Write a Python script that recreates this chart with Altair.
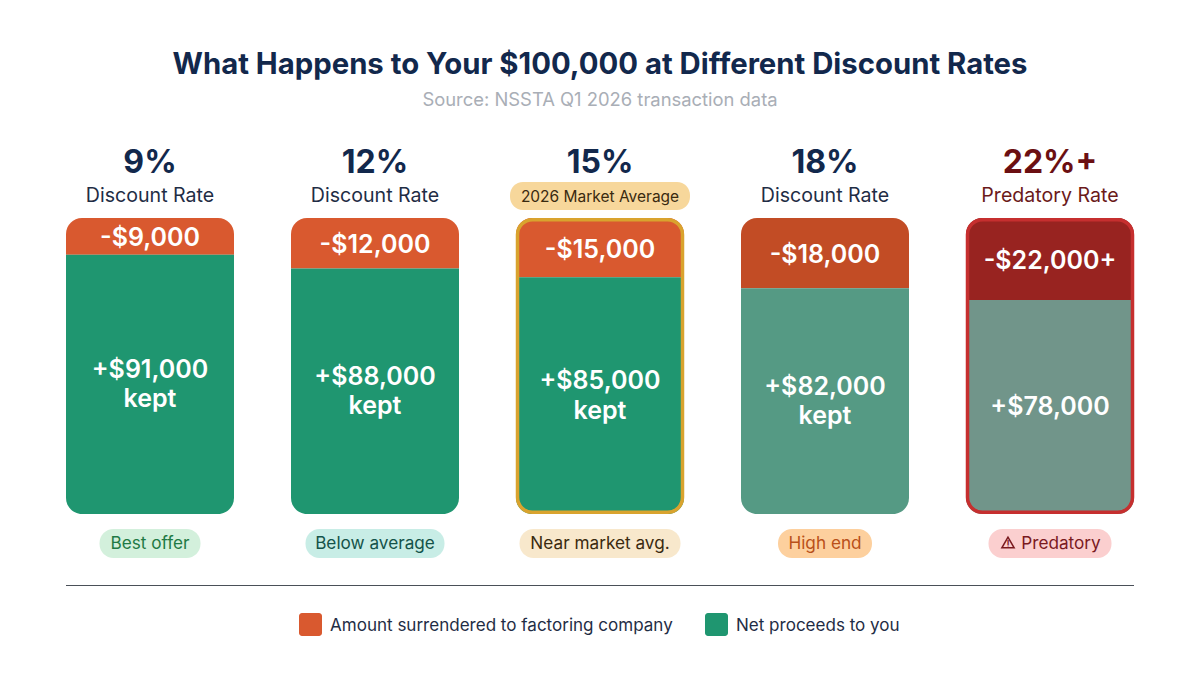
import altair as alt
import pandas as pd

# ---- data ----
rates = ["9%", "12%", "15%", "18%", "22%+"]
subtitles = ["Discount Rate", "Discount Rate", "", "Discount Rate", "Predatory Rate"]
surrendered_labels = ["-$9,000", "-$12,000", "-$15,000", "-$18,000", "-$22,000+"]
kept_labels = ["+$91,000", "+$88,000", "+$85,000", "+$82,000", "+$78,000"]
kept_words = ["kept", "kept", "kept", "kept", ""]
# share of each bar's height as drawn in the picture
surrendered_drawn = [12.4, 17.1, 20.0, 23.7, 27.7]
pill_labels = ["Best offer", "Below average", "Near market avg.", "High end", "Predatory"]
legend_labels = ["Amount surrendered to factoring company", "Net proceeds to you"]

# ---- styles ----
NAVY = "#12284C"
FONT = "Inter"
orange_fill = ["#D9592F", "#D9592F", "#D9592F", "#C24C25", "#982320"]
green_fill = ["#1F9670", "#1F9670", "#1F9670", "#559A84", "#71958A"]
rate_color = [NAVY, NAVY, NAVY, NAVY, "#6B0F12"]
sub_color = ["#1F2D45", "#1F2D45", "#1F2D45", "#1F2D45", "#6B1A1A"]
pill_fill = ["#D3F0DC", "#C8EDE6", "#F8E8CC", "#FDD09E", "#FBCFCF"]
pill_text = ["#1F7A45", "#14534A", "#3A2A10", "#B9501A", "#7A1A1F"]
pill_width = [101, 139, 161, 94, 123]
pill_dx = [0, 0, 0, 0, 11]

df = pd.DataFrame({
    "rate": rates,
    "sub": subtitles,
    "surr_label": surrendered_labels,
    "kept_label": kept_labels,
    "kept_word": kept_words,
    "surr": surrendered_drawn,
    "orange": orange_fill,
    "green": green_fill,
    "rate_color": rate_color,
    "sub_color": sub_color,
    "pill": pill_labels,
    "pill_text": pill_text,
})
df["top"] = 100
df["boundary"] = 100 - df["surr"]
df["zero"] = 0
df["surr_mid"] = 100 - df["surr"] / 2
df["kept_mid"] = (100 - df["surr"]) / 2
df["has_word"] = df["kept_word"] != ""

x = alt.X("rate:N", sort=rates, axis=None,
          scale=alt.Scale(domain=rates, paddingInner=57 / 225, paddingOuter=0))
yscale = alt.Scale(domain=[0, 100])


def Y(field):
    return alt.Y(f"{field}:Q", scale=yscale, axis=None)


base = alt.Chart(df)

orange = base.mark_bar(cornerRadiusTopLeft=16, cornerRadiusTopRight=16).encode(
    x=x, y=Y("boundary"), y2="top:Q", fill=alt.Fill("orange:N", scale=None))
green = base.mark_bar(cornerRadiusBottomLeft=16, cornerRadiusBottomRight=16).encode(
    x=x, y=Y("zero"), y2="boundary:Q", fill=alt.Fill("green:N", scale=None))

outlines = [
    alt.Chart(df[df.rate == r]).mark_bar(
        width=165, cornerRadius=15, fillOpacity=0, stroke=c, strokeWidth=3.5
    ).encode(x=x, y=alt.value(1.7), y2=alt.value(294.3))
    for r, c in [("15%", "#D9A32E"), ("22%+", "#C62F2F")]
]

surr_text = base.mark_text(font=FONT, fontSize=25, fontWeight=600, color="white", dy=2).encode(
    x=x, y=Y("surr_mid"), text="surr_label:N")
kept_two = alt.Chart(df[df.has_word]).mark_text(
    font=FONT, fontSize=25, fontWeight=600, color="white", dy=-14.5
).encode(x=x, y=Y("kept_mid"), text="kept_label:N")
kept_word = alt.Chart(df[df.has_word]).mark_text(
    font=FONT, fontSize=25, fontWeight=600, color="white", dy=15
).encode(x=x, y=Y("kept_mid"), text="kept_word:N")
kept_one = alt.Chart(df[~df.has_word]).mark_text(
    font=FONT, fontSize=25, fontWeight=600, color="white"
).encode(x=x, y=Y("kept_mid"), text="kept_label:N")

rate_text = base.mark_text(font=FONT, fontSize=32, fontWeight=700).encode(
    x=x, y=alt.value(-55.5), text="rate:N", color=alt.Color("rate_color:N", scale=None))
sub_text = base.mark_text(font=FONT, fontSize=19.6).encode(
    x=x, y=alt.value(-22.5), text="sub:N", color=alt.Color("sub_color:N", scale=None))

market_pill = alt.Chart(df[df.rate == "15%"]).mark_bar(
    width=180, cornerRadius=13, color="#F7D79B"
).encode(x=x, y=alt.value(-36), y2=alt.value(-8))
market_text = alt.Chart(df[df.rate == "15%"]).mark_text(
    font=FONT, fontSize=15.5, color="#3A2A10"
).encode(x=x, y=alt.value(-21.5), text=alt.value("2026 Market Average"))

pills = [
    alt.Chart(df[df.rate == r]).mark_bar(
        width=w, cornerRadius=14, color=c
    ).encode(x=x, y=alt.value(311), y2=alt.value(340))
    for r, w, c in zip(rates, pill_width, pill_fill)
]
pill_texts = [
    alt.Chart(df[df.rate == r]).mark_text(font=FONT, fontSize=17.2, dx=d).encode(
        x=x, y=alt.value(325.5), text="pill:N", color=alt.Color("pill_text:N", scale=None))
    for r, d in zip(rates, pill_dx)
]

last = df[df.rate == "22%+"]
warn_triangle = alt.Chart(last).mark_point(
    shape="triangle-up", size=150, filled=False, strokeWidth=1.5, color="#7A1A1F", xOffset=-42, opacity=1
).encode(x=x, y=alt.value(324.5))
warn_bang = alt.Chart(last).mark_text(
    font=FONT, fontSize=10, fontWeight=600, color="#7A1A1F", dx=-42
).encode(x=x, y=alt.value(326.5), text=alt.value("!"))

one = pd.DataFrame({"label": ["t"]})
anno = alt.Chart(one)
title = anno.mark_text(font=FONT, fontSize=29.3, fontWeight=700, color=NAVY).encode(
    x=alt.value(534), y=alt.value(-153.5),
    text=alt.value("What Happens to Your $100,000 at Different Discount Rates"))
source = anno.mark_text(font=FONT, fontSize=18.4, color="#A9AEB6").encode(
    x=alt.value(534), y=alt.value(-118.5),
    text=alt.value("Source: NSSTA Q1 2026 transaction data"))
rule = anno.mark_rule(color="#4A5058", strokeWidth=1.2).encode(
    x=alt.value(0), x2=alt.value(1068), y=alt.value(367.5))

swatch1 = anno.mark_bar(cornerRadius=3, color="#D9592F").encode(
    x=alt.value(233), x2=alt.value(256), y=alt.value(395), y2=alt.value(418))
swatch2 = anno.mark_bar(cornerRadius=3, color="#1F9670").encode(
    x=alt.value(639), x2=alt.value(662), y=alt.value(395), y2=alt.value(418))
leg1 = anno.mark_text(font=FONT, fontSize=17.05, align="left", color="#1F2D45").encode(
    x=alt.value(264), y=alt.value(407.5), text=alt.value(legend_labels[0]))
leg2 = anno.mark_text(font=FONT, fontSize=17.05, align="left", color="#1F2D45").encode(
    x=alt.value(670), y=alt.value(407.5), text=alt.value(legend_labels[1]))

chart = alt.layer(
    orange, green, *outlines, surr_text, kept_two, kept_word, kept_one,
    rate_text, market_pill, sub_text, market_text, *pills, *pill_texts,
    warn_triangle, warn_bang,
    title, source, rule, swatch1, swatch2, leg1, leg2,
).properties(
    width=1068, height=296,
    autosize=alt.AutoSizeParams(type="none"),
    padding={"left": 58, "top": 210, "right": 58, "bottom": 161},
    background="white",
).configure_view(stroke=None)

chart.save("out.html", embed_options={"renderer": "svg", "actions": False})
